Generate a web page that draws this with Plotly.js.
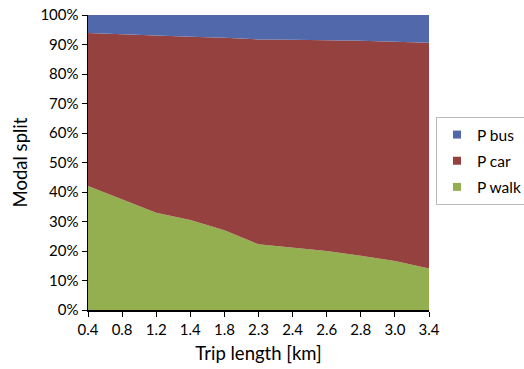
<!DOCTYPE html>
<html>
<head>
<meta charset="utf-8">
<script src="https://cdn.plot.ly/plotly-3.0.1.min.js"></script>
<style>html,body{margin:0;padding:0;background:#fff}#chart{width:524px;height:369px}</style>
</head>
<body>
<div id="chart"></div>
<script>
const tripLength = ["0.4","0.8","1.2","1.4","1.8","2.3","2.4","2.6","2.8","3.0","3.4"];
const pWalk = [42.0, 37.5, 33.0, 30.5, 27.0, 22.3, 21.1, 20.0, 18.4, 16.6, 14.1];
const pCar  = [51.9, 55.9, 60.0, 62.1, 65.3, 69.4, 70.5, 71.5, 72.85, 74.3, 76.5];
const pBus  = [6.1, 6.6, 7.0, 7.4, 7.7, 8.3, 8.4, 8.5, 8.75, 9.1, 9.4];
const seriesNames = ['P walk', 'P car', 'P bus'];
const seriesColors = ['#93AF4F', '#954140', '#5169AA'];
const seriesValues = [pWalk, pCar, pBus];

const data = [];
seriesValues.forEach((vals, i) => {
  data.push({x: tripLength, y: vals, type: 'scatter', mode: 'lines', stackgroup: 'one',
             name: seriesNames[i], fillcolor: seriesColors[i], line: {width: 0, color: seriesColors[i]},
             showlegend: false});
});
// legend entries with square swatches (as in the original), top-to-bottom: bus, car, walk
[2, 1, 0].forEach(i => {
  data.push({x: [null], y: [null], type: 'scatter', mode: 'markers', name: seriesNames[i],
             legendgroup: 'g' + i,
             marker: {symbol: 'square', size: 8, color: seriesColors[i]}, showlegend: true});
});

const fam = 'Lato, "Open Sans", sans-serif';
const layout = {
  width: 524, height: 369,
  margin: {l: 88, r: 95, t: 15, b: 59},
  paper_bgcolor: '#fff', plot_bgcolor: '#fff',
  font: {family: fam, color: '#000', size: 15},
  showlegend: true,
  legend: {xref: 'container', yref: 'container', x: 436/524, xanchor: 'left', y: 1 - 117/369, yanchor: 'top',
           traceorder: 'grouped', bordercolor: '#BBBBBB', borderwidth: 1, bgcolor: '#fff',
           font: {size: 15.5, family: fam}, itemwidth: 30, tracegroupgap: 3},
  xaxis: {type: 'category', range: [0, 10], showgrid: false, zeroline: false,
          showline: true, linecolor: '#000', linewidth: 1.5, ticks: 'outside', ticklen: 5, tickcolor: '#000',
          tickfont: {size: 15}, title: {text: 'Trip length [km]', font: {size: 18.5}, standoff: 10}},
  yaxis: {range: [0, 100], dtick: 10, ticksuffix: '%', showgrid: false, zeroline: false,
          showline: true, linecolor: '#000', linewidth: 1.5, ticks: 'outside', ticklen: 5, tickcolor: '#000',
          tickfont: {size: 15}, title: {text: 'Modal split', font: {size: 18.5}, standoff: 8}}
};
Plotly.newPlot('chart', data, layout, {displayModeBar: false, staticPlot: true});
</script>
</body>
</html>
